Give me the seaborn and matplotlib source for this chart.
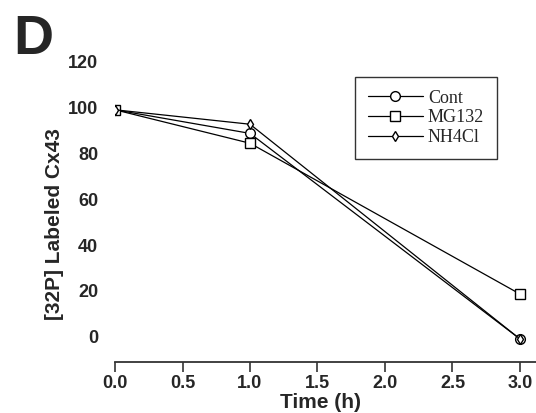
import matplotlib
matplotlib.use("Agg")
import matplotlib.pyplot as plt
import seaborn as sns
import pandas as pd

time_h = [0.0, 1.0, 3.0]
cont = [99, 88.7, -1.0]
mg132 = [99, 84.4, 18.6]
nh4cl = [99, 92.7, -1.0]
series_names = ["Cont", "MG132", "NH4Cl"]
x_ticks = [0.0, 0.5, 1.0, 1.5, 2.0, 2.5, 3.0]
y_ticks = [0, 20, 40, 60, 80, 100, 120]

sns.set_theme(style="white")
plt.rcParams['font.family'] = ['Liberation Sans', 'DejaVu Sans']

W, H = 536, 413
fig = plt.figure(figsize=(W / 100, H / 100), dpi=100)
x0, x1 = 115, 536
ybot, ytop = 362, 30
ax = fig.add_axes([x0 / W, (H - ybot) / H, (x1 - x0) / W, (ybot - ytop) / H])

markers = {"Cont": "o", "MG132": "s", "NH4Cl": "d"}
msizes = {"Cont": 7, "MG132": 7, "NH4Cl": 5}
for name, vals in zip(series_names, [cont, mg132, nh4cl]):
    df = pd.DataFrame({"Time": time_h, "Val": vals})
    sns.lineplot(data=df, x="Time", y="Val", ax=ax, color="black", linewidth=0.9,
                 marker=markers[name], markersize=msizes[name],
                 markerfacecolor="white", markeredgecolor="black",
                 markeredgewidth=1.0, label=name)

scale = (336.7 - 107.5) / 100.0
ax.set_xlim(0, (x1 - x0) / 135.0)
ax.set_ylim(-(ybot - 336.7) / scale, (336.7 - ytop) / scale)

ax.set_xticks(x_ticks)
ax.set_xticklabels([f"{v:.1f}" for v in x_ticks], fontweight="bold", fontsize=13)
ax.set_yticks(y_ticks)
ax.set_yticklabels([str(v) for v in y_ticks], fontweight="bold", fontsize=13)

for s in ["left", "top", "right"]:
    ax.spines[s].set_visible(False)
ax.spines["bottom"].set_color("#333333")
ax.spines["bottom"].set_linewidth(1.3)
ax.spines["bottom"].set_bounds(0, 3.2)
ax.tick_params(axis="y", length=0, pad=12)
ax.tick_params(axis="x", direction="out", length=7, width=1.2, color="#333333", pad=2, bottom=True)

ax.set_xlabel("Time (h)", fontweight="bold", fontsize=15)
ax.xaxis.set_label_coords((321 - x0) / (x1 - x0), -(393 - ybot) / (ybot - ytop))
ax.set_ylabel("[32P] Labeled Cx43", fontweight="bold", fontsize=15)
ax.yaxis.set_label_coords(-(x0 - 64) / (x1 - x0), (ybot - 224) / (ybot - ytop))

leg = ax.legend(loc="upper left", bbox_to_anchor=(355 / W, 1 - 77 / H),
                bbox_transform=fig.transFigure, frameon=True, fancybox=False,
                prop={"family": "Liberation Serif", "size": 13},
                handlelength=3.05, handletextpad=0.28, labelspacing=0.15,
                borderpad=0.7, borderaxespad=0, numpoints=1)
leg.get_frame().set_edgecolor("black")
leg.get_frame().set_linewidth(1.0)

fig.text(13 / W, 1 - 54 / H, "D", fontsize=40, fontweight="bold", ha="left", va="baseline")

fig.savefig("out.png", dpi=100)
